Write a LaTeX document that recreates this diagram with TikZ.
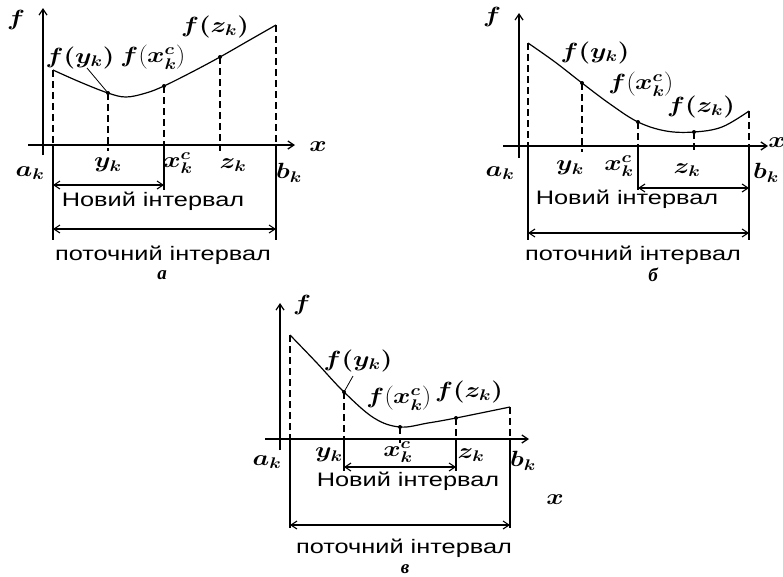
\RequirePackage{fix-cm}
\documentclass[tikz,border=0pt]{standalone}
\usepackage{fontspec}
\usetikzlibrary{arrows.meta}
\newfontfamily\uafont[FakeStretch=1.3]{Liberation Sans}
\newfontfamily\capfont{Liberation Serif}
\newcommand\wm[1]{\scalebox{1.2}[1]{$#1$}}
\tikzset{
 ax/.style={line width=1.3pt, -{Straight Barb[length=6pt,width=8pt]}},
 yax/.style={line width=2.4pt, -{Straight Barb[length=6pt,width=8pt,line width=1.2pt]}},
 crv/.style={line width=1.2pt},
 dsh/.style={line width=1.3pt, dash pattern=on 7pt off 4pt},
 sol/.style={line width=1.2pt},
 lead/.style={line width=0.8pt},
 dim/.style={line width=1.1pt, {Straight Barb[length=6pt,width=8pt]}-{Straight Barb[length=6pt,width=8pt]}},
 ml/.style={font=\fontsize{22}{26}\selectfont\boldmath, inner sep=0pt},
 ua/.style={font=\uafont\fontsize{19.5}{22}\selectfont, inner sep=0pt},
 captxt/.style={font=\capfont\bfseries\itshape\fontsize{19}{21}\selectfont, inner sep=0pt},
 dot/.style={circle, fill, inner sep=0pt, minimum size=4pt},
}
\begin{document}
\begin{tikzpicture}[x=1pt,y=-1pt]
\useasboundingbox (0,0) rectangle (783,576);

% ================= panel a =================
\draw[yax] (43,155) coordinate (AyB) -- (43,8) coordinate (AyT);
\draw[ax] (28,145) coordinate (AxL) -- (295,145) coordinate (AxR);
\node[ml] (Afl) at (16,20) {\wm{f}};
\node[ml] (Axl) at (318,147) {\wm{x}};
\coordinate (Aa) at (53,70);  \coordinate (Ay) at (108,93);
\coordinate (Ac) at (164,86); \coordinate (Az) at (220,57);
\coordinate (Ab) at (276,25);
\draw[crv] plot[smooth,tension=0.6] coordinates {(Aa) (80,82) (Ay) (126,97) (146,93) (Ac) (192,72) (Az) (248,41) (Ab)};
\coordinate (Aa0) at (53,145); \coordinate (Ay0) at (108,151);
\coordinate (Ac0) at (164,145); \coordinate (Az0) at (220,151);
\coordinate (Ab0) at (276,145);
\draw[dsh] (Aa) -- (Aa0); \draw[dsh] (Ay) -- (Ay0); \draw[dsh] (Ac) -- (Ac0);
\draw[dsh] (Az) -- (Az0); \draw[dsh] (Ab) -- (Ab0);
\coordinate (Aa1) at (53,240); \coordinate (Ac1) at (164,190); \coordinate (Ab1) at (276,240);
\draw[sol] (Aa0) -- (Aa1); \draw[sol] (Ac0) -- (Ac1); \draw[sol] (Ab0) -- (Ab1);
\node[dot] (Ady) at (Ay) {}; \node[dot] (Adc) at (Ac) {}; \node[dot] (Adz) at (Az) {};
\node[ml] (Afy) at (80,58) {\wm{f(y_k)}};
\node[ml] (Afc) at (153,57) {\wm{f{\left(x_k^c\right)}}};
\node[ml] (Afz) at (215,27) {\wm{f(z_k)}};
\coordinate (AL) at (87,68);
\draw[lead] (AL) -- (Ay);
\node[ml] (Aal) at (30,173) {\wm{a_k}};
\node[ml] (Ayl) at (108,165) {\wm{y_k}};
\node[ml] (Acl) at (178,163) {\wm{x_k^c}};
\node[ml] (Azl) at (233,165) {\wm{z_k}};
\node[ml] (Abl) at (289,173) {\wm{b_k}};
\coordinate (AnL) at (53,185); \coordinate (AnR) at (164,185);
\draw[dim] (AnL) -- (AnR);
\node[ua] (Ant) at (153,201) {Новий інтервал};
\coordinate (ApL) at (53,229); \coordinate (ApR) at (276,229);
\draw[dim] (ApL) -- (ApR);
\node[ua] (Apt) at (163,255) {поточний інтервал};
\node[captxt] (Acap) at (162,275) {а};

% ================= panel b =================
\draw[yax] (519,158) coordinate (ByB) -- (519,13) coordinate (ByT);
\draw[ax] (503,146) coordinate (BxL) -- (768,146) coordinate (BxR);
\node[ml] (Bfl) at (492,17) {\wm{f}};
\node[ml] (Bxl) at (777,143) {\wm{x}};
\coordinate (Ba) at (528,43);  \coordinate (By) at (582,83);
\coordinate (Bc) at (638,122); \coordinate (Bz) at (694,132);
\coordinate (Bb) at (749,111);
\draw[crv] plot[smooth,tension=0.6] coordinates {(Ba) (555,62) (By) (610,104) (Bc) (666,131) (Bz) (722,127) (Bb)};
\coordinate (Ba0) at (528,146); \coordinate (By0) at (582,152);
\coordinate (Bc0) at (638,146); \coordinate (Bz0) at (694,150);
\coordinate (Bb0) at (749,146);
\draw[dsh] (Ba) -- (Ba0); \draw[dsh] (By) -- (By0); \draw[dsh] (Bc) -- (Bc0);
\draw[dsh] (Bz) -- (Bz0); \draw[dsh] (Bb) -- (Bb0);
\coordinate (Ba1) at (528,240); \coordinate (Bc1) at (638,190); \coordinate (Bb1) at (749,240);
\draw[sol] (Ba0) -- (Ba1); \draw[sol] (Bc0) -- (Bc1); \draw[sol] (Bb0) -- (Bb1);
\node[dot] (Bdy) at (By) {}; \node[dot] (Bdc) at (Bc) {}; \node[dot] (Bdz) at (Bz) {};
\node[ml] (Bfy) at (595,53) {\wm{f(y_k)}};
\node[ml] (Bfc) at (641,84) {\wm{f{\left(x_k^c\right)}}};
\node[ml] (Bfz) at (701,107) {\wm{f(z_k)}};
\node[ml] (Bal) at (500,173) {\wm{a_k}};
\node[ml] (Byl) at (570,168) {\wm{y_k}};
\node[ml] (Bcl) at (619,166) {\wm{x_k^c}};
\node[ml] (Bzl) at (687,170) {\wm{z_k}};
\node[ml] (Bbl) at (766,173) {\wm{b_k}};
\coordinate (BnL) at (638,188); \coordinate (BnR) at (749,188);
\draw[dim] (BnL) -- (BnR);
\node[ua] (Bnt) at (627,199) {Новий інтервал};
\coordinate (BpL) at (528,233); \coordinate (BpR) at (749,233);
\draw[dim] (BpL) -- (BpR);
\node[ua] (Bpt) at (633,255) {поточний інтервал};
\node[captxt] (Bcap) at (653,275) {б};

% ================= panel c =================
\draw[yax] (280,450) coordinate (CyB) -- (280,303) coordinate (CyT);
\draw[ax] (265,439) coordinate (CxL) -- (529,439) coordinate (CxR);
\node[ml] (Cfl) at (302,305) {\wm{f}};
\node[ml] (Cxl) at (555,500) {\wm{x}};
\coordinate (Ca) at (290,335);  \coordinate (Cy) at (344,392);
\coordinate (Cc) at (400,427); \coordinate (Cz) at (456,418);
\coordinate (Cb) at (510,407);
\draw[crv] plot[smooth,tension=0.6] coordinates {(Ca) (316,362) (Cy) (374,418) (Cc) (428,423) (Cz) (Cb)};
\coordinate (Ca0) at (290,439); \coordinate (Cy0) at (344,439);
\coordinate (Cc0) at (400,443); \coordinate (Cz0) at (456,439);
\coordinate (Cb0) at (510,439);
\draw[dsh] (Ca) -- (Ca0); \draw[dsh] (Cy) -- (Cy0); \draw[dsh] (Cc) -- (Cc0);
\draw[dsh] (Cz) -- (Cz0); \draw[dsh] (Cb) -- (Cb0);
\coordinate (Ca1) at (290,528); \coordinate (Cy1) at (344,471);
\coordinate (Cz1) at (456,471); \coordinate (Cb1) at (510,528);
\draw[sol] (Ca0) -- (Ca1); \draw[sol] (Cy0) -- (Cy1);
\draw[sol] (Cz0) -- (Cz1); \draw[sol] (Cb0) -- (Cb1);
\node[dot] (Cdy) at (Cy) {}; \node[dot] (Cdc) at (Cc) {}; \node[dot] (Cdz) at (Cz) {};
\node[ml] (Cfy) at (358,361) {\wm{f(y_k)}};
\coordinate (CL) at (353,376);
\draw[lead] (CL) -- (Cy);
\node[ml] (Cfc) at (399,398) {\wm{f{\left(x_k^c\right)}}};
\node[ml] (Cfz) at (469,392) {\wm{f(z_k)}};
\node[ml] (Cal) at (267,462) {\wm{a_k}};
\node[ml] (Cyl) at (329,455) {\wm{y_k}};
\node[ml] (Ccl) at (398,452) {\wm{x_k^c}};
\node[ml] (Czl) at (471,455) {\wm{z_k}};
\node[ml] (Cbl) at (523,461) {\wm{b_k}};
\coordinate (CnL) at (344,467); \coordinate (CnR) at (456,467);
\draw[dim] (CnL) -- (CnR);
\node[ua] (Cnt) at (408,481) {Новий інтервал};
\coordinate (CpL) at (290,525); \coordinate (CpR) at (510,525);
\draw[dim] (CpL) -- (CpR);
\node[ua] (Cpt) at (404,548) {поточний інтервал};
\node[captxt] (Ccap) at (405,569) {в};
\end{tikzpicture}
\end{document}
